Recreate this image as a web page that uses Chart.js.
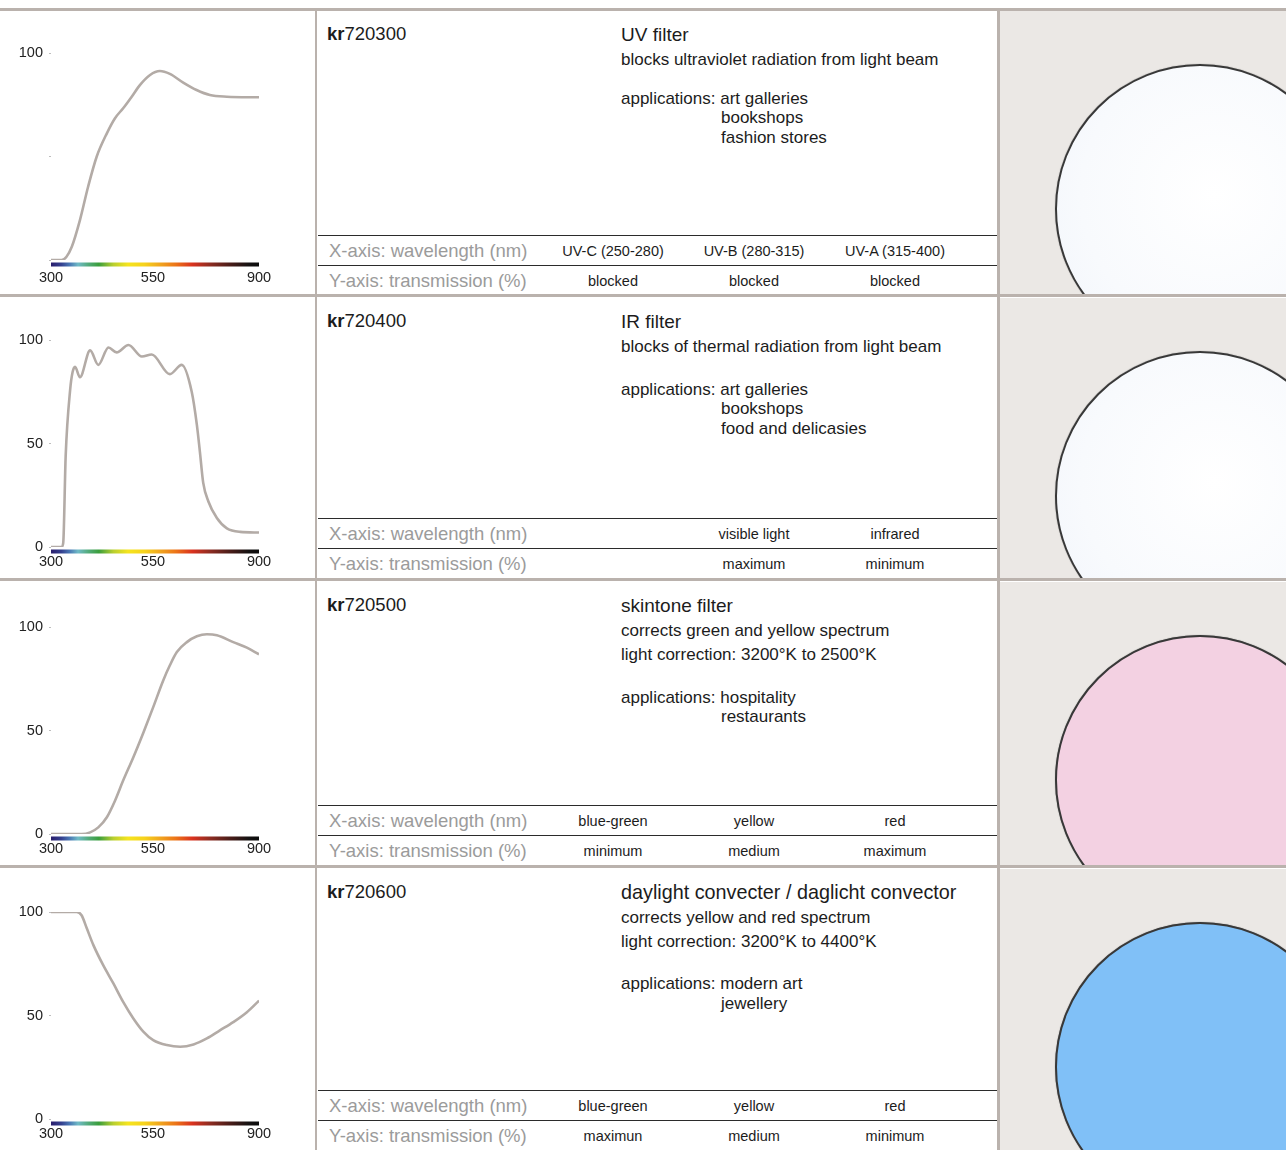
<!DOCTYPE html>
<html><head><meta charset="utf-8">
<script src="https://cdn.jsdelivr.net/npm/chart.js@4.4.0/dist/chart.umd.min.js"></script>
<style>
body{margin:0;width:1286px;height:1150px;position:relative;background:#fff;overflow:hidden;font-family:"Liberation Sans",Arial,sans-serif;color:#1c1c1c}
.hl{position:absolute;left:0;width:1286px;height:3px;background:#bab2ad;z-index:3}
.vl{position:absolute;top:8px;width:2px;height:1142px;background:#bab2ad;z-index:3}
.tl{position:absolute;left:318px;width:679px;height:1px;background:#2b2b2b;z-index:2}
.t{position:absolute;white-space:nowrap;z-index:4}
.c{transform:translateX(-50%)}
.cell{position:absolute;left:1000px;width:286px;overflow:hidden;background:#ebe8e5;z-index:1}
.circle{position:absolute;left:55px;top:54px;width:290px;height:290px;border-radius:50%;box-sizing:border-box;border:2.5px solid #383838;box-shadow:0 0 1px rgba(0,0,0,0.5)}
canvas{position:absolute;left:0;z-index:2}
</style>
</head><body>
<script>
// ---------- data ----------
const wavelengthTicks = [300, 550, 900];
const transmissionTicks = [0, 50, 100];
const uvYTickLabels = ['', '', '100'];
const stdYTickLabels = ['0', '50', '100'];

const uvWavelength   = [300,326,338,351,371,391,412,437,457,477,498,518,543,573,606,650,694,738,794,900];
const uvTransmission = [0,0,1.6,6.4,19.3,35.4,49.9,61.2,68.5,73.3,78.9,84.5,89.4,91.3,89.9,85.7,82.1,79.7,78.9,78.6];

const irWavelength   = [300,326,330,336,347,353,359,371,396,416,441,461,490,523,547,606,645,678,695,705,716,733,761,794,838,900];
const irTransmission = [0,0,2,44,76,84.5,87,82,95,88,96.4,94,97.6,92,93,83.5,88,75,59,46,31,22,14,9,7.3,7];

const skinWavelength   = [300,375,396,416,437,457,477,502,527,551,584,606,629,662,695,728,761,815,860,900];
const skinTransmission = [0,0,0.8,3.2,8.1,16.1,25.8,37.1,49.2,61.3,74.2,81.5,87.9,92.7,95.5,96.5,96,92.7,90,86.8];

const dayWavelength   = [300,363,375,388,404,428,453,477,502,527,551,596,640,684,728,771,815,860,900];
const dayTransmission = [100,100,98.4,92,84,74.3,65.5,56.6,48.6,42.1,38.1,35.7,34.9,36,38.9,42.8,46.8,51.6,57.2];

// ---------- page layout ----------
const rowTops = [10, 297, 581, 868];
const rowBottoms = [294, 578, 865, 1150];

function add(cls, style, html) {
  const d = document.createElement('div');
  d.className = cls; d.setAttribute('style', style);
  if (html !== undefined) d.innerHTML = html;
  document.body.appendChild(d); return d;
}
function text(x, yc, str, size, opts) {
  opts = opts || {};
  const h = Math.round(size * 1.3);
  add('t' + (opts.center ? ' c' : ''),
      `left:${x}px;top:${yc - h/2}px;height:${h}px;line-height:${h}px;font-size:${size}px;color:${opts.color || '#1c1c1c'}`, str);
}

// separators
[8, 294, 578, 865].forEach(y => add('hl', `top:${y}px`));
add('vl', 'left:315px'); add('vl', 'left:997px;width:3px');

const rowsText = [
  {code:'720300', title:'UV filter', tsize:19, lines:['blocks ultraviolet radiation from light beam'], appsY:[99,118,138], apps:['art galleries','bookshops','fashion stores'],
   xcols:['UV-C (250-280)','UV-B (280-315)','UV-A (315-400)'], ycols:['blocked','blocked','blocked']},
  {code:'720400', title:'IR filter', tsize:19, lines:['blocks of thermal radiation from light beam'], appsY:[390,409,429], apps:['art galleries','bookshops','food and delicasies'],
   xcols:['','visible light','infrared'], ycols:['','maximum','minimum']},
  {code:'720500', title:'skintone filter', tsize:19, lines:['corrects green and yellow spectrum','light correction: 3200°K to 2500°K'], appsY:[698,717], apps:['hospitality','restaurants'],
   xcols:['blue-green','yellow','red'], ycols:['minimum','medium','maximum']},
  {code:'720600', title:'daylight convecter / daglicht convector', tsize:19.8, lines:['corrects yellow and red spectrum','light correction: 3200°K to 4400°K'], appsY:[984,1004], apps:['modern art','jewellery'],
   xcols:['blue-green','yellow','red'], ycols:['maximun','medium','minimum']}
];
const circleFills = [
  'radial-gradient(circle at 55% 45%, #ffffff 0%, #f8fafd 60%, #f0f4fb 100%)',
  'radial-gradient(circle at 55% 45%, #ffffff 0%, #f8fafd 60%, #f0f4fb 100%)',
  '#f3d1e2',
  '#80c0f7'
];

rowsText.forEach((r, i) => {
  const top = rowTops[i];
  text(327, top + 24, '<b>kr</b>' + r.code, 18.5);
  text(621, top + 24, r.title, r.tsize);
  let y = top + 49.5;
  r.lines.forEach(l => { text(621, y, l, 17); y += 24.3; });
  r.apps.forEach((a, k) => {
    if (k === 0) text(621, r.appsY[k], 'applications: ' + a, 17);
    else text(721, r.appsY[k], a, 17);
  });
  // table
  const l1 = [235, 518, 805, 1090][i];
  add('tl', `top:${l1}px`); add('tl', `top:${l1 + 30}px`);
  text(329, l1 + 16, 'X-axis: wavelength (nm)', 18.5, {color:'#9b9b9b'});
  text(329, l1 + 46, 'Y-axis: transmission (%)', 18.5, {color:'#9b9b9b'});
  [613, 754, 895].forEach((cx, k) => {
    if (r.xcols[k]) text(cx, l1 + 16, r.xcols[k], 14.5, {center:true});
    if (r.ycols[k]) text(cx, l1 + 46, r.ycols[k], 14.5, {center:true});
  });
  // photo cell
  const cell = add('cell', `top:${top + 1}px;height:${rowBottoms[i] - top - 1}px`);
  const circ = document.createElement('div');
  circ.className = 'circle'; circ.style.background = circleFills[i];
  circ.style.top = (199 - 145 - 1) + 'px';
  cell.appendChild(circ);
});

// ---------- Chart.js ----------
class WaveScale extends Chart.LinearScale {
  _dec(value) {
    const b = wavelengthTicks, mid = 0.49;
    if (value <= b[1]) return (value - b[0]) / (b[1] - b[0]) * mid;
    return mid + (value - b[1]) / (b[2] - b[1]) * (1 - mid);
  }
  getPixelForValue(value) {
    if (value === null || value === undefined || isNaN(value)) return NaN;
    return this.getPixelForDecimal(this._dec(value));
  }
  getValueForPixel(pixel) {
    const d = this.getDecimalForPixel(pixel), b = wavelengthTicks, mid = 0.49;
    if (d <= mid) return b[0] + d / mid * (b[1] - b[0]);
    return b[1] + (d - mid) / (1 - mid) * (b[2] - b[1]);
  }
}
WaveScale.id = 'wave';
WaveScale.defaults = Chart.LinearScale.defaults;
Chart.register(WaveScale);

Chart.defaults.font.family = '"Liberation Sans", Arial, sans-serif';

const spectrumPlugin = {
  id: 'spectrum',
  beforeDatasetsDraw(chart) {
    const {ctx, chartArea, scales} = chart;
    const x = scales.x;
    const l = x.getPixelForValue(wavelengthTicks[0]), r = x.getPixelForValue(wavelengthTicks[2]);
    const g = ctx.createLinearGradient(l, 0, r, 0);
    [[0,'#2a1d6c'],[0.05,'#34408f'],[0.09,'#4a78b4'],[0.13,'#70bac6'],[0.18,'#53ab7a'],[0.23,'#3a9e3c'],[0.3,'#b9cf2f'],[0.37,'#f5e41e'],[0.45,'#f6d21c'],[0.53,'#f0a21e'],[0.6,'#ec7418'],[0.68,'#d9321f'],[0.77,'#8a2c22'],[0.86,'#4b1d19'],[0.95,'#151212'],[1,'#0c0c0c']]
      .forEach(s => g.addColorStop(s[0], s[1]));
    ctx.save();
    ctx.fillStyle = g;
    ctx.fillRect(l, chartArea.bottom + 2.5, r - l, 4);
    ctx.restore();
  }
};

const charts = [
  {wl: uvWavelength, tr: uvTransmission, yl: uvYTickLabels, y100: 53.3, xpad: 1},
  {wl: irWavelength, tr: irTransmission, yl: stdYTickLabels, y100: 340, xpad: -2},
  {wl: skinWavelength, tr: skinTransmission, yl: stdYTickLabels, y100: 626.7, xpad: -2},
  {wl: dayWavelength, tr: dayTransmission, yl: stdYTickLabels, y100: 911.7, xpad: -2}
];

charts.forEach(c => {
  const cv = document.createElement('canvas');
  cv.width = 316; cv.height = 285;
  cv.style.top = (c.y100 - 45) + 'px';
  document.body.appendChild(cv);
  new Chart(cv, {
    type: 'line',
    data: {datasets: [{
      data: c.wl.map((w, i) => ({x: w, y: c.tr[i]})),
      borderColor: '#b3aba6', borderWidth: 2.6, pointRadius: 0,
      cubicInterpolationMode: 'monotone', fill: false
    }]},
    options: {
      responsive: false, animation: false,
      layout: {padding: {left: 0, right: 57, top: 45, bottom: 0}},
      plugins: {legend: {display: false}, tooltip: {enabled: false}},
      scales: {
        x: {
          type: 'wave', position: 'bottom', min: wavelengthTicks[0], max: wavelengthTicks[2],
          grid: {display: false}, border: {display: false},
          ticks: {color: '#222', font: {size: 14.5}, padding: c.xpad, maxRotation: 0, autoSkip: false,
                  callback: v => String(v)},
          afterBuildTicks: s => { s.ticks = wavelengthTicks.map(v => ({value: v})); },
          afterFit: s => { s.height = 33; }
        },
        y: {
          type: 'linear', min: 0, max: 100,
          grid: {display: true, drawOnChartArea: false, drawTicks: true, tickLength: 2, color: '#bdbdbd'},
          border: {display: false},
          ticks: {color: '#222', font: {size: 14.5}, padding: 6,
                  callback: (v, i) => c.yl[i]},
          afterBuildTicks: s => { s.ticks = transmissionTicks.map(v => ({value: v})); },
          afterFit: s => { s.width = 51; }
        }
      }
    },
    plugins: [spectrumPlugin]
  });
});
</script>
</body></html>
